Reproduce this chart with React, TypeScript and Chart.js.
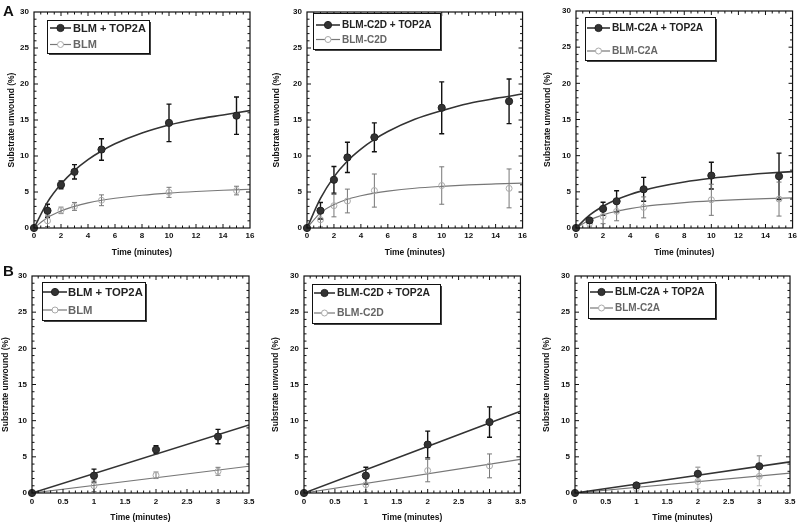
import React, { useEffect, useRef } from "react";
import { Chart, registerables } from "chart.js";

Chart.register(...registerables);

const FONT = "'Liberation Sans', Arial, Helvetica, sans-serif";

// ---------- Data: panel A (0–15 min) ----------
const timeA = [0, 1, 2, 3, 5, 10, 15];
const blmTop = [0, 2.4, 6.0, 7.8, 10.9, 14.6, 15.6];
const blmTopErr = [0, 0.9, 0.55, 1.0, 1.5, 2.6, 2.6];
const blm = [0, 1.0, 2.45, 3.0, 3.85, 4.95, 5.2];
const blmErr = [0, 0.8, 0.45, 0.55, 0.75, 0.7, 0.6];

const c2dTop = [0, 2.4, 6.7, 9.8, 12.6, 16.7, 17.6];
const c2dTopErr = [0, 1.15, 1.85, 2.1, 2.0, 3.6, 3.1];
const c2d = [0, 1.15, 3.1, 3.75, 5.2, 5.9, 5.5];
const c2dErr = [0, 1.0, 1.55, 1.65, 2.3, 2.6, 2.7];

const c2aTop = [0, 1.05, 2.65, 3.7, 5.35, 7.25, 7.15];
const c2aTopErr = [0, 0.3, 0.9, 1.45, 1.65, 1.85, 3.2];
const c2a = [0, 0.65, 1.6, 2.3, 2.85, 3.9, 4.0];
const c2aErr = [0, 0.5, 1.0, 1.3, 1.45, 2.15, 2.35];

// fitted curves
const fitTimeA = [0, 1, 2, 3, 4, 5, 6, 8, 10, 12, 14, 16];
const blmTopFit = [0, 3.6, 6.1, 8.0, 9.5, 10.7, 11.7, 13.2, 14.3, 15.1, 15.7, 16.3];
const blmFit = [0, 1.45, 2.37, 3.0, 3.48, 3.85, 4.13, 4.55, 4.85, 5.07, 5.24, 5.38];
const c2dTopFit = [0, 4.1, 7.1, 9.3, 10.95, 12.3, 13.4, 15.1, 16.3, 17.3, 18.0, 18.6];
const c2dFit = [0, 2.1, 3.26, 4.0, 4.48, 4.85, 5.12, 5.52, 5.78, 5.98, 6.12, 6.24];
const c2aTopFit = [0, 1.77, 3.0, 3.93, 4.64, 5.2, 5.66, 6.36, 6.87, 7.26, 7.56, 7.8];
const c2aFit = [0, 1.11, 1.82, 2.32, 2.68, 2.97, 3.19, 3.52, 3.75, 3.92, 4.06, 4.16];

// ---------- Data: panel B (0–3 min) ----------
const timeB = [0, 1, 2, 3];
const lineTimeB = [0, 3.5];
const blmTopLine = [0, 9.4];
const blmLine = [0, 3.7];
const c2dTopLine = [0, 11.3];
const c2dLine = [0, 4.65];
const c2aTopLine = [0, 4.3];
const c2aLine = [0, 2.75];

const yTicksLabel = "Substrate unwound (%)";
const xTicksLabel = "Time (minutes)";

const labels = {
  blmTop: "BLM + TOP2A",
  blm: "BLM",
  c2dTop: "BLM-C2D + TOP2A",
  c2d: "BLM-C2D",
  c2aTop: "BLM-C2A + TOP2A",
  c2a: "BLM-C2A",
};

const pts = (xs: number[], ys: number[]) => ys.map((y, i) => ({ x: xs[i], y }));

// ---------- Plugins ----------
const errorBarPlugin = {
  id: "errorBars",
  beforeDatasetsDraw(chart: any) {
    const ctx = chart.ctx;
    const ys = chart.scales.y;
    chart.data.datasets.forEach((ds: any, i: number) => {
      if (!ds.errors) return;
      const meta = chart.getDatasetMeta(i);
      ctx.save();
      ctx.strokeStyle = ds.errorColor;
      ctx.lineWidth = ds.errorWidth;
      meta.data.forEach((el: any, j: number) => {
        const e = ds.errors[j];
        if (!e) return;
        const v = ds.data[j].y;
        const x = el.x;
        const y1 = ys.getPixelForValue(v + e);
        const y2 = ys.getPixelForValue(v - e);
        const c = 2.5;
        ctx.beginPath();
        ctx.moveTo(x, y1);
        ctx.lineTo(x, y2);
        ctx.moveTo(x - c, y1);
        ctx.lineTo(x + c, y1);
        ctx.moveTo(x - c, y2);
        ctx.lineTo(x + c, y2);
        ctx.stroke();
      });
      ctx.restore();
    });
  },
};

const frameTickPlugin = {
  id: "frameTicks",
  afterDraw(chart: any, _args: any, opts: any) {
    const ctx = chart.ctx;
    const { left, right, top, bottom } = chart.chartArea;
    const xs = chart.scales.x;
    const ys = chart.scales.y;
    ctx.save();
    ctx.strokeStyle = "#111";
    ctx.lineWidth = 1.2;
    ctx.strokeRect(left, top, right - left, bottom - top);
    ctx.lineWidth = 1;
    const isMajor = (v: number, m: number) => Math.abs(v / m - Math.round(v / m)) < 1e-6;
    ctx.beginPath();
    const nx = Math.round((xs.max - xs.min) / opts.xMinor);
    for (let k = 1; k < nx; k++) {
      const v = xs.min + k * opts.xMinor;
      const p = xs.getPixelForValue(v);
      const len = isMajor(v, opts.xMajor) ? 4 : 2.5;
      ctx.moveTo(p, bottom);
      ctx.lineTo(p, bottom - len);
      ctx.moveTo(p, top);
      ctx.lineTo(p, top + len);
    }
    const ny = Math.round((ys.max - ys.min) / opts.yMinor);
    for (let k = 1; k < ny; k++) {
      const v = ys.min + k * opts.yMinor;
      const p = ys.getPixelForValue(v);
      const len = isMajor(v, opts.yMajor) ? 4 : 2.5;
      ctx.moveTo(left, p);
      ctx.lineTo(left + len, p);
      ctx.moveTo(right, p);
      ctx.lineTo(right - len, p);
    }
    ctx.stroke();
    ctx.restore();
  },
};

const boxLegendPlugin = {
  id: "boxLegend",
  afterDraw(chart: any, _args: any, o: any) {
    const ctx = chart.ctx;
    ctx.save();
    ctx.fillStyle = "#444";
    ctx.fillRect(o.x + 2, o.y + 2, o.w, o.h);
    ctx.fillStyle = "#fff";
    ctx.fillRect(o.x, o.y, o.w, o.h);
    ctx.strokeStyle = "#111";
    ctx.lineWidth = 1;
    ctx.strokeRect(o.x + 0.5, o.y + 0.5, o.w, o.h);
    const items = chart.data.datasets.filter((d: any) => d.legendLabel);
    items.forEach((ds: any, i: number) => {
      const y = o.rows[i];
      ctx.strokeStyle = ds.legendLine;
      ctx.lineWidth = ds.legendLineWidth;
      ctx.beginPath();
      ctx.moveTo(o.line[0], y);
      ctx.lineTo(o.line[1], y);
      ctx.stroke();
      const mx = (o.line[0] + o.line[1]) / 2;
      ctx.beginPath();
      ctx.arc(mx, y, ds.pointRadius, 0, Math.PI * 2);
      if (ds.backgroundColor && ds.backgroundColor !== "rgba(0,0,0,0)") {
        ctx.fillStyle = ds.backgroundColor;
        ctx.fill();
      } else {
        ctx.fillStyle = "#fff";
        ctx.fill();
      }
      ctx.strokeStyle = ds.borderColor;
      ctx.lineWidth = 1;
      ctx.stroke();
      ctx.fillStyle = ds.legendText;
      ctx.font = `bold ${o.font}px ${FONT}`;
      ctx.textAlign = "left";
      ctx.textBaseline = "middle";
      ctx.fillText(ds.legendLabel, o.text, y + 0.5);
    });
    ctx.restore();
  },
};

// ---------- Panel definitions ----------
type PanelCfg = {
  left: number;
  top: number;
  w: number;
  h: number;
  ca: { l: number; r: number; t: number; b: number };
  xMax: number;
  xStep: number;
  xMinor: number;
  xTickPad: number;
  yTitleX: number;
  legend: any;
  darkLabel: string;
  greyLabel: string;
  darkX: number[];
  darkY: number[];
  darkErr: number[];
  greyX: number[];
  greyY: number[];
  greyErr: number[];
  fitX: number[];
  darkFit: number[];
  greyFit: number[];
  darkErrColor: string;
  greyErrColor: string;
};

const panels: PanelCfg[] = [
  {
    left: 0, top: 0, w: 265, h: 262,
    ca: { l: 34, r: 250, t: 12, b: 228 },
    xMax: 16, xStep: 2, xMinor: 0.5, xTickPad: 3, yTitleX: 12,
    legend: { x: 47, y: 20, w: 102, h: 33, rows: [28, 44.5], line: [50, 71], text: 73, font: 11 },
    darkLabel: labels.blmTop, greyLabel: labels.blm,
    darkX: timeA, darkY: blmTop, darkErr: blmTopErr,
    greyX: timeA, greyY: blm, greyErr: blmErr,
    fitX: fitTimeA, darkFit: blmTopFit, greyFit: blmFit,
    darkErrColor: "#111", greyErrColor: "#777",
  },
  {
    left: 265, top: 0, w: 265, h: 262,
    ca: { l: 42, r: 260, t: 12, b: 228 },
    xMax: 16, xStep: 2, xMinor: 0.5, xTickPad: 3, yTitleX: 12,
    legend: { x: 48, y: 13, w: 127, h: 36, rows: [25, 39.5], line: [51, 75], text: 77, font: 10 },
    darkLabel: labels.c2dTop, greyLabel: labels.c2d,
    darkX: timeA, darkY: c2dTop, darkErr: c2dTopErr,
    greyX: timeA, greyY: c2d, greyErr: c2dErr,
    fitX: fitTimeA, darkFit: c2dTopFit, greyFit: c2dFit,
    darkErrColor: "#111", greyErrColor: "#777",
  },
  {
    left: 530, top: 0, w: 270, h: 262,
    ca: { l: 46, r: 263, t: 11, b: 228 },
    xMax: 16, xStep: 2, xMinor: 0.5, xTickPad: 3, yTitleX: 18,
    legend: { x: 55, y: 17, w: 130, h: 43, rows: [28, 51], line: [57, 80], text: 82, font: 10.2 },
    darkLabel: labels.c2aTop, greyLabel: labels.c2a,
    darkX: timeA, darkY: c2aTop, darkErr: c2aTopErr,
    greyX: timeA, greyY: c2a, greyErr: c2aErr,
    fitX: fitTimeA, darkFit: c2aTopFit, greyFit: c2aFit,
    darkErrColor: "#111", greyErrColor: "#777",
  },
  {
    left: 0, top: 262, w: 265, h: 265,
    ca: { l: 32, r: 249, t: 14, b: 231 },
    xMax: 3.5, xStep: 0.5, xMinor: 0.1, xTickPad: 4, yTitleX: 6,
    legend: { x: 42, y: 20, w: 103, h: 38, rows: [30, 48], line: [43, 67], text: 68, font: 11.3 },
    darkLabel: labels.blmTop, greyLabel: labels.blm,
    darkX: timeB, darkY: blmTop.slice(0, 4), darkErr: blmTopErr.slice(0, 4),
    greyX: timeB, greyY: blm.slice(0, 4), greyErr: blmErr.slice(0, 4),
    fitX: lineTimeB, darkFit: blmTopLine, greyFit: blmLine,
    darkErrColor: "#111", greyErrColor: "#777",
  },
  {
    left: 265, top: 262, w: 265, h: 265,
    ca: { l: 39, r: 256, t: 14, b: 231 },
    xMax: 3.5, xStep: 0.5, xMinor: 0.1, xTickPad: 4, yTitleX: 11,
    legend: { x: 47, y: 22, w: 128, h: 39, rows: [31, 51], line: [49, 70], text: 72, font: 10.4 },
    darkLabel: labels.c2dTop, greyLabel: labels.c2d,
    darkX: timeB, darkY: c2dTop.slice(0, 4), darkErr: c2dTopErr.slice(0, 4),
    greyX: timeB, greyY: c2d.slice(0, 4), greyErr: c2dErr.slice(0, 4),
    fitX: lineTimeB, darkFit: c2dTopLine, greyFit: c2dLine,
    darkErrColor: "#111", greyErrColor: "#777",
  },
  {
    left: 530, top: 262, w: 270, h: 265,
    ca: { l: 45, r: 260, t: 14, b: 231 },
    xMax: 3.5, xStep: 0.5, xMinor: 0.1, xTickPad: 4, yTitleX: 17,
    legend: { x: 58, y: 20, w: 127, h: 36, rows: [30, 46], line: [60, 83], text: 85, font: 10 },
    darkLabel: labels.c2aTop, greyLabel: labels.c2a,
    darkX: timeB, darkY: c2aTop.slice(0, 4), darkErr: c2aTopErr.slice(0, 4),
    greyX: timeB, greyY: c2a.slice(0, 4), greyErr: c2aErr.slice(0, 4),
    fitX: lineTimeB, darkFit: c2aTopLine, greyFit: c2aLine,
    darkErrColor: "#aaa", greyErrColor: "#bbb",
  },
];

function buildConfig(p: PanelCfg): any {
  const tickFont = { family: FONT, size: 8, weight: "bold" as const };
  const titleFont = { family: FONT, size: 8.5, weight: "bold" as const };
  const half = (8.5 * 1.2) / 2;
  return {
    type: "scatter",
    data: {
      datasets: [
        {
          label: p.darkLabel,
          legendLabel: p.darkLabel,
          legendLine: "#333",
          legendLineWidth: 1.6,
          legendText: "#222",
          data: pts(p.darkX, p.darkY),
          errors: p.darkErr,
          errorColor: p.darkErrColor,
          errorWidth: 1.4,
          showLine: false,
          pointRadius: 3.6,
          backgroundColor: "#333",
          borderColor: "#222",
          borderWidth: 1,
          clip: false,
        },
        {
          label: p.darkLabel + " fit",
          data: pts(p.fitX, p.darkFit),
          showLine: true,
          pointRadius: 0,
          borderColor: "#333",
          borderWidth: 1.6,
          cubicInterpolationMode: "monotone",
        },
        {
          label: p.greyLabel,
          legendLabel: p.greyLabel,
          legendLine: "#777",
          legendLineWidth: 1.2,
          legendText: "#666",
          data: pts(p.greyX, p.greyY),
          errors: p.greyErr,
          errorColor: p.greyErrColor,
          errorWidth: 1,
          showLine: false,
          pointRadius: 3,
          backgroundColor: "rgba(0,0,0,0)",
          borderColor: "#aaa",
          borderWidth: 1,
          clip: false,
        },
        {
          label: p.greyLabel + " fit",
          data: pts(p.fitX, p.greyFit),
          showLine: true,
          pointRadius: 0,
          borderColor: "#777",
          borderWidth: 1.2,
          cubicInterpolationMode: "monotone",
        },
      ],
    },
    options: {
      animation: false,
      responsive: false,
      devicePixelRatio: 1,
      events: [],
      layout: { padding: { left: 0, top: p.ca.t, right: p.w - p.ca.r, bottom: 0 } },
      scales: {
        x: {
          type: "linear",
          min: 0,
          max: p.xMax,
          grid: { display: false, drawTicks: false },
          border: { display: false },
          ticks: {
            stepSize: p.xStep,
            padding: p.xTickPad,
            font: tickFont,
            color: "#111",
            maxRotation: 0,
            autoSkip: false,
            callback: (v: any) => String(Math.round(Number(v) * 100) / 100),
          },
          title: {
            display: true,
            text: xTicksLabel,
            font: titleFont,
            color: "#111",
            padding: { top: 0, bottom: 9 - half },
          },
          afterFit: (s: any) => {
            s.height = p.h - p.ca.b;
          },
        },
        y: {
          type: "linear",
          min: 0,
          max: 30,
          grid: { display: false, drawTicks: false },
          border: { display: false },
          ticks: {
            stepSize: 5,
            padding: 5,
            font: tickFont,
            color: "#111",
            autoSkip: false,
          },
          title: {
            display: true,
            text: yTicksLabel,
            font: titleFont,
            color: "#111",
            padding: { top: p.yTitleX - half, bottom: 0 },
          },
          afterFit: (s: any) => {
            s.width = p.ca.l;
          },
        },
      },
      plugins: {
        legend: { display: false },
        tooltip: { enabled: false },
        frameTicks: { xMinor: p.xMinor, xMajor: p.xStep, yMinor: 1, yMajor: 5 },
        boxLegend: p.legend,
      },
    },
    plugins: [errorBarPlugin, frameTickPlugin, boxLegendPlugin],
  };
}

function Panel({ cfg }: { cfg: PanelCfg }) {
  const ref = useRef<HTMLCanvasElement>(null);
  useEffect(() => {
    const chart = new Chart(ref.current as HTMLCanvasElement, buildConfig(cfg));
    return () => chart.destroy();
  }, [cfg]);
  return (
    <canvas
      ref={ref}
      width={cfg.w}
      height={cfg.h}
      style={{ position: "absolute", left: cfg.left, top: cfg.top, width: cfg.w, height: cfg.h }}
    />
  );
}

const letterStyle: React.CSSProperties = {
  position: "absolute",
  fontFamily: FONT,
  fontWeight: "bold",
  fontSize: 15,
  lineHeight: "15px",
  color: "#111",
};

export default function App() {
  return (
    <div
      style={{
        position: "absolute",
        left: 0,
        top: 0,
        width: 800,
        height: 527,
        background: "#fff",
        overflow: "hidden",
      }}
    >
      {panels.map((p, i) => (
        <Panel key={i} cfg={p} />
      ))}
      <div style={{ ...letterStyle, left: 3, top: 3 }}>A</div>
      <div style={{ ...letterStyle, left: 3, top: 263 }}>B</div>
    </div>
  );
}
